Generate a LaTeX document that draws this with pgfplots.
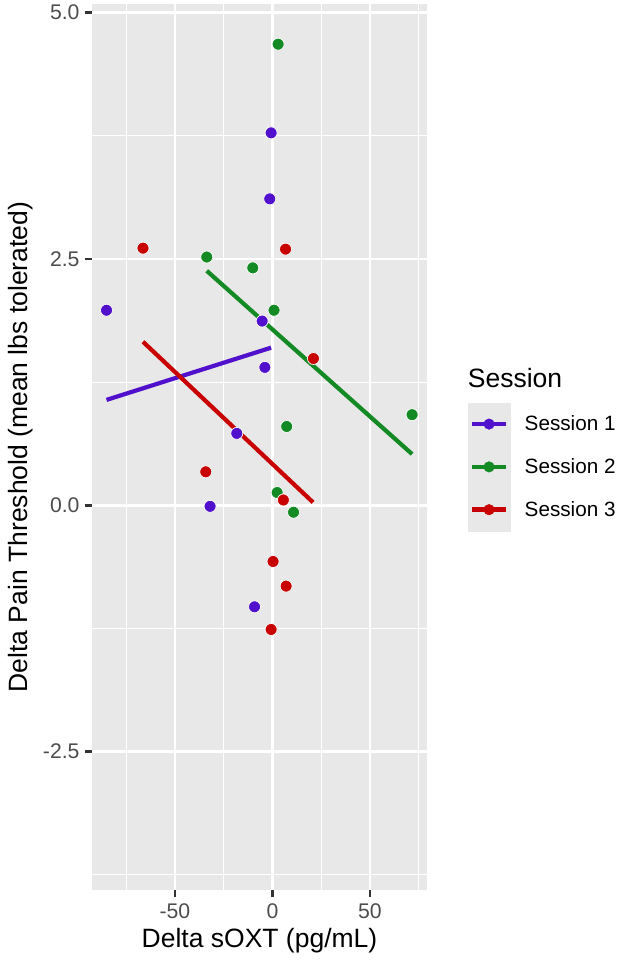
\documentclass[border=0pt]{standalone}
\usepackage{pgfplots}
\pgfplotsset{compat=1.18}
\usepackage{fontspec}
\setmainfont{Liberation Sans}
\definecolor{sone}{RGB}{80,16,204}
\definecolor{stwo}{RGB}{20,138,36}
\definecolor{sthree}{RGB}{200,0,0}
\definecolor{panelbg}{RGB}{232,232,232}
\definecolor{ticktxt}{RGB}{77,77,77}
\definecolor{tickcol}{RGB}{51,51,51}
\newcommand{\keyimg}[1]{%
  \fill[panelbg] (0pt,-21.2pt) rectangle (42.3pt,21.2pt);
  \draw[#1,line width=4.6pt] (4pt,0pt) -- (38.3pt,0pt);
  \fill[#1] (21.15pt,0pt) circle (5.3pt);}
\begin{document}
\begin{tikzpicture}
\path[use as bounding box] (0,0) rectangle (624pt,965pt);
\begin{axis}[
  at={(91.7pt,75pt)}, anchor=south west,
  scale only axis, width=335.6pt, height=886pt,
  xmin=-92.7, xmax=79.4, ymin=-3.904, ymax=5.088,
  axis background/.style={fill=panelbg},
  axis line style={draw=none},
  xtick={-50,0,50}, xticklabels={-50,0,50},
  ytick={-2.5,0,2.5,5}, yticklabels={-2.5,0.0,2.5,5.0},
  minor xtick={-75,-25,25,75},
  minor ytick={-3.75,-1.25,1.25,3.75},
  grid=both,
  major grid style={white,line width=2.5pt},
  minor grid style={white,line width=1.3pt},
  tick align=outside, xtick pos=bottom, ytick pos=left,
  major tick length=7pt, minor tick length=0pt,
  tick style={tickcol,line width=2.4pt},
  ticklabel style={font=\fontsize{21.2}{24}\selectfont, text=ticktxt},
  yticklabel style={inner sep=0pt, anchor=east, xshift=-5pt},
  xticklabel style={inner sep=0pt, anchor=north, yshift=-6pt},
  label style={font=\fontsize{26.5}{30}\selectfont},
  xlabel={Delta sOXT (pg/mL)},
  ylabel={Delta Pain Threshold (mean lbs tolerated)},
  xlabel style={at={(axis description cs:0.5,-0.0575)}, anchor=center},
  ylabel style={at={(axis description cs:-0.2107,0.5)}, anchor=center},
  legend style={at={(1.1204,0.550)}, anchor=north west, draw=none, fill=none,
    inner sep=0pt, outer sep=0pt, row sep=0pt,
    nodes={inner sep=0pt, outer sep=0pt},
    font=\fontsize{20.7}{24}\selectfont},
  legend cell align=left,
  /tikz/every odd column/.append style={column sep=14.3pt},
]
% regression lines
\addplot[sone, line width=4.2pt, forget plot] coordinates {(-85.1,1.07) (-0.7,1.60)};
\addplot[stwo, line width=4.2pt, forget plot] coordinates {(-33.7,2.38) (71.6,0.52)};
\addplot[sthree, line width=4.2pt, forget plot] coordinates {(-66.4,1.66) (20.8,0.03)};
% points
\addplot[only marks, mark=*, mark size=6pt,
  mark options={fill=sone, draw=white, line width=0.7pt},
  legend image code/.code={\keyimg{sone}}] coordinates {
  (-0.7,3.78) (-1.4,3.11) (-85.1,1.98) (-5.3,1.87) (-3.9,1.40)
  (-18.3,0.73) (-32.0,-0.01) (-9.2,-1.03)};
\addlegendentry{Session 1}
\addplot[only marks, mark=*, mark size=6pt,
  mark options={fill=stwo, draw=white, line width=0.7pt},
  legend image code/.code={\keyimg{stwo}}] coordinates {
  (2.9,4.68) (-33.7,2.52) (-10.1,2.41) (0.8,1.98) (71.6,0.92)
  (7.3,0.80) (2.4,0.13) (10.8,-0.07)};
\addlegendentry{Session 2}
\addplot[only marks, mark=*, mark size=6pt,
  mark options={fill=sthree, draw=white, line width=0.7pt},
  legend image code/.code={\keyimg{sthree}}] coordinates {
  (-66.4,2.61) (6.7,2.60) (21.0,1.49) (-34.2,0.34) (5.6,0.054)
  (0.3,-0.57) (7.0,-0.82) (-0.7,-1.26)};
\addlegendentry{Session 3}
\end{axis}
\node[anchor=west, inner sep=0pt, font=\fontsize{26.5}{30}\selectfont] at (467.7pt,587pt) {Session};
\end{tikzpicture}
\end{document}
